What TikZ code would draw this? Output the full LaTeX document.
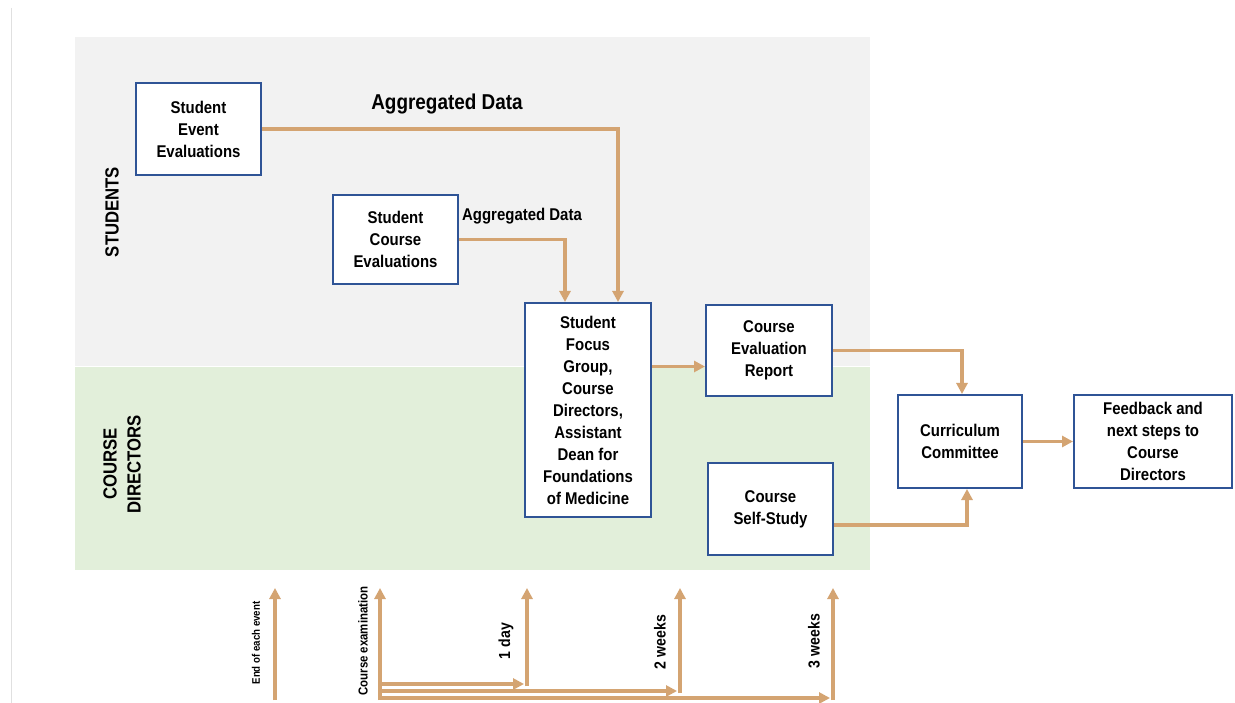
\documentclass[tikz,border=0pt]{standalone}
\usepackage{fontspec}
\setmainfont{Liberation Sans}[FakeStretch=0.88]
\usetikzlibrary{arrows.meta}
\definecolor{laneGray}{RGB}{242,242,242}
\definecolor{laneGreen}{RGB}{226,239,218}
\definecolor{boxBlue}{RGB}{47,84,150}
\definecolor{flowTan}{RGB}{212,164,114}
\begin{document}
\begin{tikzpicture}[x=1pt,y=-1pt,
  stepbox/.style={draw=boxBlue, line width=2pt, fill=white, align=center,
    inner sep=0pt, font=\bfseries\fontsize{17}{22}\selectfont},
  flow/.style={draw=flowTan, line width=3.2pt,
    -{Triangle[length=11pt,width=11pt]}},
  lanelabel/.style={rotate=90, align=center,
    font=\bfseries\fontsize{19}{24}\selectfont},
  timelabel/.style={rotate=90, font=\bfseries\fontsize{16}{18}\selectfont},
  flowlabel/.style={font=\bfseries\fontsize{17}{20}\selectfont}]

% canvas
\useasboundingbox[fill=white] (0,0) rectangle (1235,703);
\draw[black!12, line width=1pt] (11,8) -- (11,703);

% swim lanes
\fill[laneGray]  (75,37)  rectangle (870,366);
\fill[laneGreen] (75,367) rectangle (870,570);
\node[lanelabel] (lStud) at (112,212) {STUDENTS};
\node[lanelabel] (lDir)  at (122,464) {COURSE\\DIRECTORS};

% process boxes
\node[stepbox, minimum width=125pt, minimum height=92pt] (see) at (198.5,129)
  {Student\\Event\\Evaluations};
\node[stepbox, minimum width=125pt, minimum height=89pt] (sce) at (395.5,239.5)
  {Student\\Course\\Evaluations};
\node[stepbox, minimum width=126pt, minimum height=214pt] (fg) at (588,410)
  {Student\\Focus\\Group,\\Course\\Directors,\\Assistant\\Dean for\\Foundations\\of Medicine};
\node[stepbox, minimum width=126pt, minimum height=91pt] (cer) at (769,350.5)
  {Course\\Evaluation\\Report};
\node[stepbox, minimum width=125pt, minimum height=92pt] (css) at (770.5,509)
  {Course\\Self-Study};
\node[stepbox, minimum width=124pt, minimum height=93pt] (cc) at (960,441.5)
  {Curriculum\\Committee};
\node[stepbox, minimum width=158pt, minimum height=93pt] (fb) at (1153,441.5)
  {Feedback and\\next steps to\\Course\\Directors};

% flow between boxes
\coordinate (fgInA) at ([xshift=41pt]fg.north west);
\coordinate (fgInB) at ([xshift=94pt]fg.north west);
\coordinate (cerIn) at ([yshift=-16pt]cer.west);
\coordinate (cssOut) at ([yshift=-16pt]css.east);
\coordinate (ccInB) at ([xshift=7pt]cc.south);
\coordinate (ccInA) at ([xshift=2pt]cc.north);

\draw[flow] (see.east) -| (fgInB);
\draw[flow] (sce.east) -| (fgInA);
\draw[flow] (fg.east |- cerIn) -- (cerIn);
\draw[flow] (cer.east) -| (ccInA);
\draw[flow] (cssOut) -| (ccInB);
\draw[flow] (cc.east) -- (fb.west);

\node[flowlabel, font=\bfseries\fontsize{21.5}{24}\selectfont] (aggBig) at (447,104) {Aggregated Data};
\node[flowlabel] (aggSmall) at (522,216) {Aggregated Data};

% timeline
\coordinate (evBot) at (275,700);  \coordinate (evTop) at (275,588);
\coordinate (exBot) at (380,700);  \coordinate (exTop) at (380,588);
\coordinate (dA) at (380,684); \coordinate (dAend) at (524,684);
\coordinate (dB) at (380,691); \coordinate (dBend) at (677,691);
\coordinate (dC) at (380,698); \coordinate (dCend) at (830,698);
\coordinate (dayBot) at (527,686);  \coordinate (dayTop) at (527,588);
\coordinate (twoBot) at (680,693);  \coordinate (twoTop) at (680,588);
\coordinate (thrBot) at (833,700);  \coordinate (thrTop) at (833,588);

\draw[flow] (evBot) -- (evTop);
\draw[flow] (exBot) -- (exTop);
\draw[flow] (dA) -- (dAend);
\draw[flow] (dB) -- (dBend);
\draw[flow] (dC) -- (dCend);
\draw[flow] (dayBot) -- (dayTop);
\draw[flow] (twoBot) -- (twoTop);
\draw[flow] (thrBot) -- (thrTop);

\node[rotate=90, font=\bfseries\fontsize{11}{13}\selectfont] (tEv) at (256,643) {End of each event};
\node[rotate=90, font=\bfseries\fontsize{13}{15}\selectfont] (tEx) at (363,641) {Course examination};
\node[timelabel] (tDay) at (506,641) {1 day};
\node[timelabel] (tTwo) at (660,642) {2 weeks};
\node[timelabel] (tThr) at (814,641) {3 weeks};
\end{tikzpicture}
\end{document}
